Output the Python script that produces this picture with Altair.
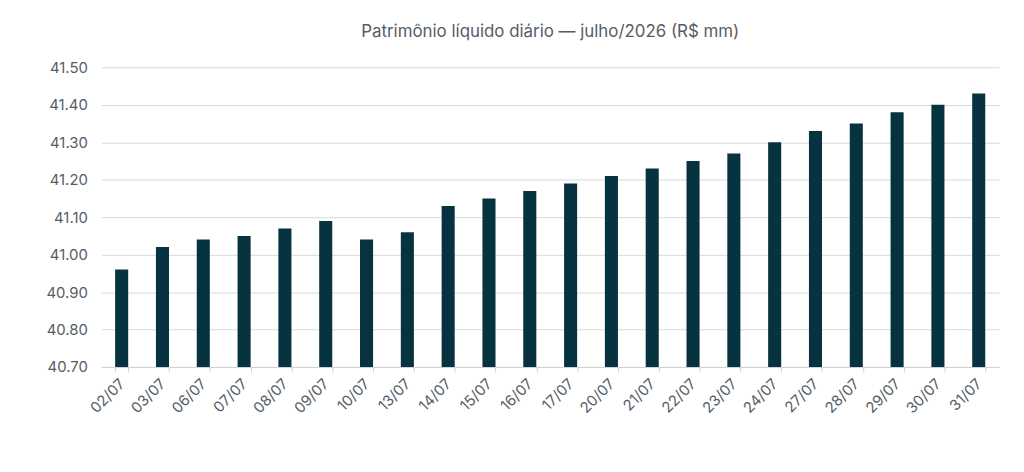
import altair as alt
import pandas as pd

dates = ["02/07", "03/07", "06/07", "07/07", "08/07", "09/07", "10/07", "13/07",
         "14/07", "15/07", "16/07", "17/07", "20/07", "21/07", "22/07", "23/07",
         "24/07", "27/07", "28/07", "29/07", "30/07", "31/07"]
values = [40.96, 41.02, 41.04, 41.05, 41.07, 41.09, 41.04, 41.06,
          41.13, 41.15, 41.17, 41.19, 41.21, 41.23, 41.25, 41.27,
          41.30, 41.33, 41.35, 41.38, 41.40, 41.43]
y_ticks = [40.7, 40.8, 40.9, 41.0, 41.1, 41.2, 41.3, 41.4, 41.5]

df = pd.DataFrame({"data": dates, "pl": values})

font = "Inter"
txt = "#545d66"
chart = alt.Chart(df).mark_bar(color="#06333f", clip=True).encode(
    x=alt.X("data:N", sort=dates, title=None,
            scale=alt.Scale(paddingInner=0.68, paddingOuter=0.34),
            axis=alt.Axis(labelAngle=-45, labelFontSize=15, labelColor=txt,
                          labelFont=font, domainColor="#d0d0d0", tickColor="#d0d0d0",
                          tickSize=5, tickBand="extent", labelPadding=9,
                          labelAlign="right", labelBaseline="middle", grid=False)),
    y=alt.Y("pl:Q", title=None,
            scale=alt.Scale(domain=[40.7, 41.5], zero=False, nice=False),
            axis=alt.Axis(values=y_ticks, format=".2f", labelFontSize=15,
                          labelColor=txt, labelFont=font, domain=False,
                          ticks=False, labelPadding=14, gridColor="#d9d9d9",
                          gridWidth=1)),
    y2=alt.datum(40.7),
).properties(
    width=905, height=302,
    title=alt.TitleParams("Patrimônio líquido diário — julho/2026 (R$ mm)",
                          fontSize=17, font=font, fontWeight="normal",
                          color=txt, anchor="middle", offset=20),
    autosize=alt.AutoSizeParams(type="none"),
    padding={"left": 94, "top": 58, "right": 17, "bottom": 96},
).configure_view(stroke=None)

chart.save("out.html", embed_options={"renderer": "svg", "actions": False})
